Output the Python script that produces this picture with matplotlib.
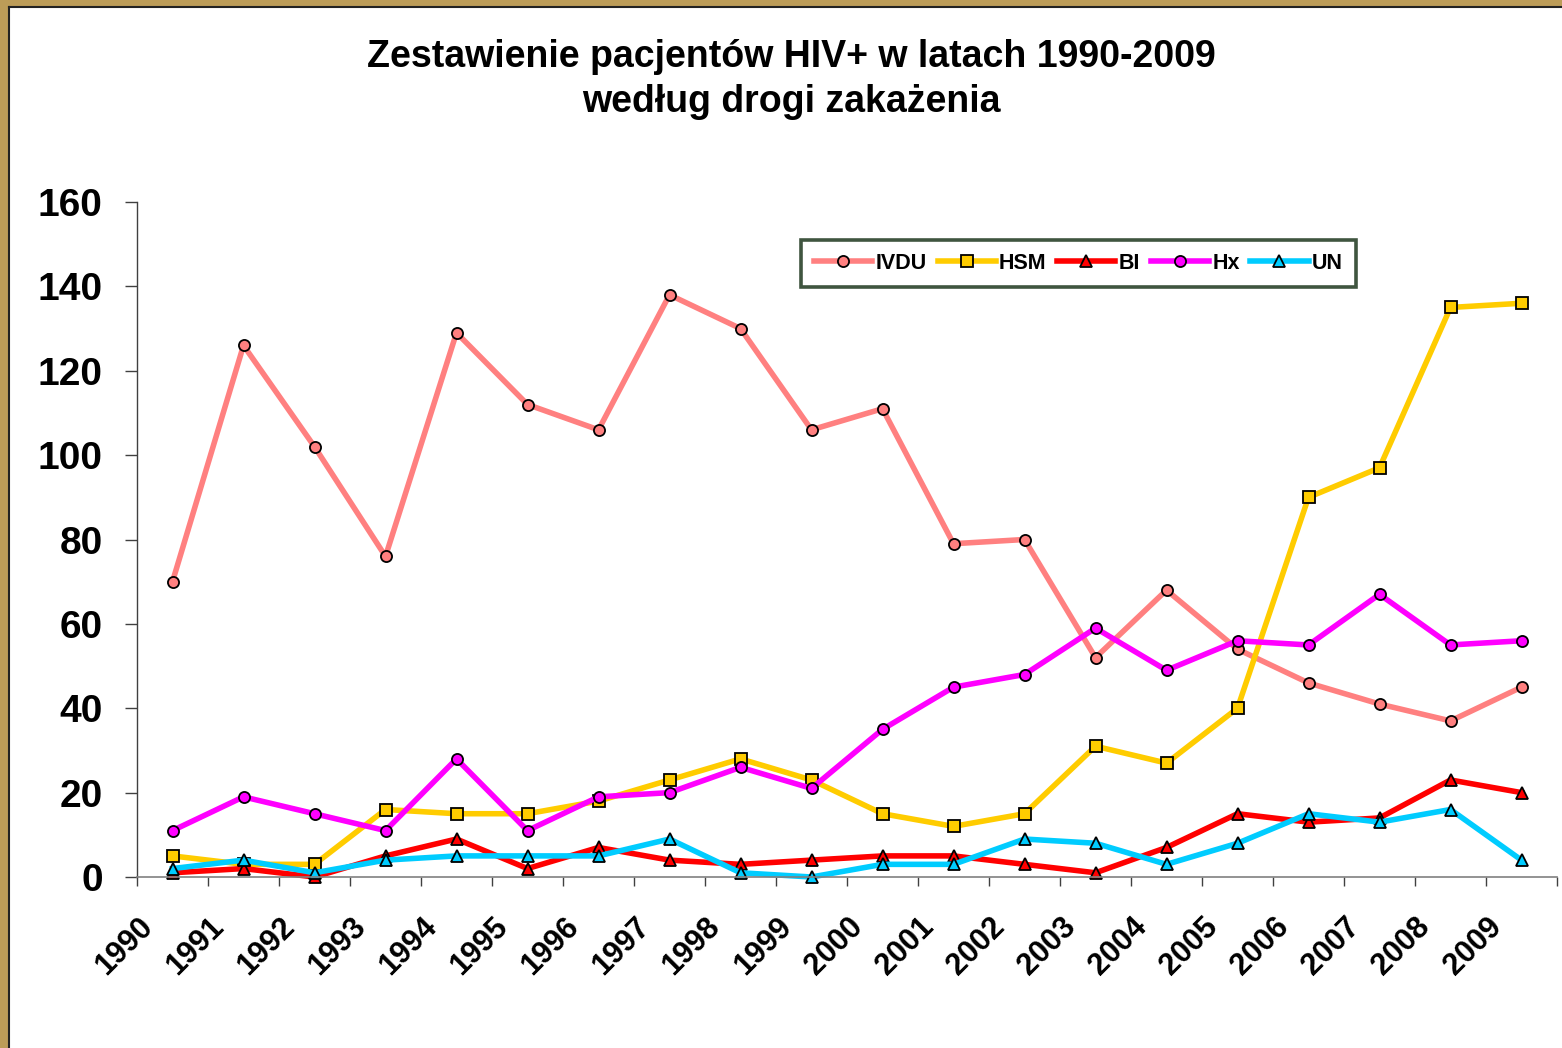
import matplotlib
matplotlib.use("Agg")
import matplotlib.pyplot as plt
import matplotlib.patches as patches
from matplotlib.transforms import ScaledTranslation

plt.rcParams["font.family"] = ["Liberation Sans", "DejaVu Sans"]
plt.rcParams["font.weight"] = "bold"

years = [str(y) for y in range(1990, 2010)]

ivdu = [70, 126, 102, 76, 129, 112, 106, 138, 130, 106, 111, 79, 80, 52, 68, 54, 46, 41, 37, 45]
hsm = [5, 3, 3, 16, 15, 15, 18, 23, 28, 23, 15, 12, 15, 31, 27, 40, 90, 97, 135, 136]
bi = [1, 2, 0, 5, 9, 2, 7, 4, 3, 4, 5, 5, 3, 1, 7, 15, 13, 14, 23, 20]
hx = [11, 19, 15, 11, 28, 11, 19, 20, 26, 21, 35, 45, 48, 59, 49, 56, 55, 67, 55, 56]
un = [2, 4, 1, 4, 5, 5, 5, 9, 1, 0, 3, 3, 9, 8, 3, 8, 15, 13, 16, 4]

series = [
    ("IVDU", ivdu, "#FF8080", "o"),
    ("HSM", hsm, "#FFCC00", "s"),
    ("BI", bi, "#FF0000", "^"),
    ("Hx", hx, "#FF00FF", "o"),
    ("UN", un, "#00CCFF", "^"),
]

W, H = 1562, 1048
fig = plt.figure(figsize=(W / 100, H / 100), dpi=100)
fig.patch.set_facecolor("white")

# frame strips on the left and top edges
frame = "#BC9C58"
fig.patches.append(patches.Rectangle((0, 1 - 6 / H), 1, 6 / H, transform=fig.transFigure,
                                     facecolor=frame, edgecolor="none", zorder=0))
fig.patches.append(patches.Rectangle((0, 0), 8 / W, 1, transform=fig.transFigure,
                                     facecolor=frame, edgecolor="none", zorder=0))
fig.lines.append(plt.Line2D([8.5 / W, 1], [1 - 6.5 / H, 1 - 6.5 / H], transform=fig.transFigure,
                            color="#222222", lw=1.5))
fig.lines.append(plt.Line2D([8.5 / W, 8.5 / W], [0, 1 - 6.5 / H], transform=fig.transFigure,
                            color="#222222", lw=1.5))

ax = fig.add_axes([137 / W, (H - 877) / H, 1420 / W, 675 / H])

x = list(range(len(years)))
for name, vals, col, mk in series:
    ms = 9 if mk == "^" else 8
    ax.plot(x, vals, color=col, lw=4, marker=mk, markersize=ms,
            markerfacecolor=col, markeredgecolor="black", markeredgewidth=1.3,
            label=name, clip_on=False)

ax.set_xlim(-0.5, len(years) - 0.5)
ax.set_ylim(0, 160)
ax.set_yticks(range(0, 161, 20))
ax.tick_params(axis="y", direction="out", length=8.6, width=1, color="#404040",
               pad=16, labelsize=28)
for lab in ax.get_yticklabels():
    lab.set_fontweight("bold")

# category boundaries carry tick marks, labels sit at the category centres
ax.set_xticks([i - 0.5 for i in range(len(years) + 1)], minor=True)
ax.tick_params(axis="x", which="minor", direction="out", length=6.5, width=1, color="#404040")
ax.set_xticks(x)
ax.set_xticklabels(years, rotation=45, ha="right", va="top", fontsize=22, fontweight="bold")
ax.tick_params(axis="x", which="major", length=0, pad=25)
shift = ScaledTranslation(-0.14, 0, fig.dpi_scale_trans)
for lab in ax.get_xticklabels():
    lab.set_transform(lab.get_transform() + shift)

for s in ["top", "right"]:
    ax.spines[s].set_visible(False)
ax.spines["left"].set_color("#404040")
ax.spines["bottom"].set_color("#808080")
ax.spines["left"].set_linewidth(1)
ax.spines["bottom"].set_linewidth(1.2)

leg = ax.legend(loc="center", bbox_to_anchor=(0.663, 0.909), ncol=5, frameon=True,
                fancybox=False, handlelength=2.7, handletextpad=0.15, columnspacing=0.5,
                borderpad=0.6, prop={"size": 15.5, "weight": "bold"})
leg.get_frame().set_edgecolor("#0F2A0F")
leg.get_frame().set_linewidth(2.6)

fig.text(791 / W, 1 - 57 / H, "Zestawienie pacjentów HIV+ w latach 1990-2009",
         ha="center", va="center", fontsize=27, fontweight="bold")
fig.text(791 / W, 1 - 102 / H, "według drogi zakażenia",
         ha="center", va="center", fontsize=27, fontweight="bold")

fig.savefig("out.png", dpi=100)
